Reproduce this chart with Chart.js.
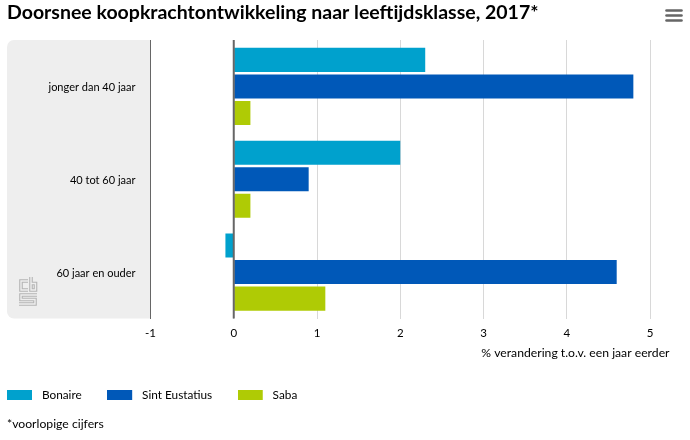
<!DOCTYPE html>
<html><head><meta charset="utf-8">
<style>html,body{margin:0;padding:0;background:#fff}#w{width:690px;height:440px;position:relative}</style>
<script src="https://cdn.jsdelivr.net/npm/chart.js@4"></script></head>
<body><div id="w"><canvas id="c" width="690" height="440"></canvas></div>
<script>
const categories = ['jonger dan 40 jaar', '40 tot 60 jaar', '60 jaar en ouder'];
const bonaire = [2.3, 2.0, -0.1];
const sintEustatius = [4.8, 0.9, 4.6];
const saba = [0.2, 0.2, 1.1];
const seriesNames = ['Bonaire', 'Sint Eustatius', 'Saba'];
const seriesColors = ['#00a1cd', '#0058b8', '#afcb05'];
const titleText = 'Doorsnee koopkrachtontwikkeling naar leeftijdsklasse, 2017*';
const axisTitle = '% verandering t.o.v. een jaar eerder';
const footnote = '*voorlopige cijfers';
const FONT = 'Lato';

function swatch(color){
  const cv = document.createElement('canvas'); cv.width = 29; cv.height = 10;
  const g = cv.getContext('2d'); g.fillStyle = color; g.fillRect(0,0,25,10); return cv;
}
function drawLogo(ctx){
  const path = () => {
    ctx.beginPath();
    ctx.moveTo(28,281);ctx.lineTo(21,281);ctx.lineTo(21,290);ctx.lineTo(28,290);
    ctx.moveTo(31,277);ctx.lineTo(31,290);ctx.lineTo(35.5,290);ctx.lineTo(35.5,283.5);ctx.lineTo(31,283.5);
    ctx.moveTo(37,295);ctx.lineTo(21,295);ctx.lineTo(21,299.5);ctx.lineTo(35,299.5);ctx.lineTo(35,304);ctx.lineTo(19,304);
  };
  ctx.save(); ctx.lineJoin='miter';
  path(); ctx.strokeStyle='#b4b4b4'; ctx.lineWidth=3.6; ctx.stroke();
  path(); ctx.strokeStyle='#eeeeee'; ctx.lineWidth=1.4; ctx.stroke();
  ctx.restore();
}
const decor = {
  id:'decor',
  afterLayout(chart){
    const l = chart.legend, pad = l.options.labels.padding;
    l.left = 7 - pad; l.top = 364; l.bottom = 410;
  },
  beforeDraw(chart){
    const ctx = chart.ctx, a = chart.chartArea;
    ctx.save(); ctx.fillStyle='#eeeeee'; ctx.beginPath();
    ctx.roundRect(7, a.top, a.left-7, a.bottom-a.top, [7,0,0,7]); ctx.fill(); ctx.restore();
    drawLogo(ctx);
    ctx.save(); ctx.strokeStyle='#666'; ctx.lineWidth=2.6; ctx.lineCap='round';
    [10.5,15.5,20.5].forEach(y=>{ctx.beginPath();ctx.moveTo(666.5,y);ctx.lineTo(681.5,y);ctx.stroke();});
    ctx.restore();
  },
  afterDatasetsDraw(chart){
    const ctx = chart.ctx, a = chart.chartArea, x = chart.scales.x.getPixelForValue(0);
    ctx.save(); ctx.strokeStyle='#666'; ctx.lineWidth=2; ctx.beginPath();
    ctx.moveTo(x,a.top); ctx.lineTo(x,a.bottom); ctx.stroke(); ctx.restore();
  },
  afterDraw(chart){
    const ctx = chart.ctx, s = chart.scales.x;
    ctx.save(); ctx.fillStyle='#000'; ctx.font='12.2px '+FONT; ctx.textAlign='right'; ctx.textBaseline='middle';
    ctx.fillText(axisTitle, s.right+19.5, 353); ctx.restore();
  }
};
new Chart(document.getElementById('c'), {
  type:'bar',
  data:{labels:categories, datasets:[
    {label:seriesNames[0], data:bonaire, backgroundColor:seriesColors[0]},
    {label:seriesNames[1], data:sintEustatius, backgroundColor:seriesColors[1]},
    {label:seriesNames[2], data:saba, backgroundColor:seriesColors[2]}
  ]},
  plugins:[decor],
  options:{
    indexAxis:'y', responsive:false, animation:false, devicePixelRatio:1,
    layout:{padding:{left:7,right:40,top:0,bottom:0}},
    datasets:{bar:{categoryPercentage:0.858, barPercentage:0.905, borderWidth:0}},
    plugins:{
      tooltip:{enabled:false},
      title:{display:true, text:titleText, align:'start', color:'#000',
        font:{family:FONT,size:19.5,weight:'bold',lineHeight:1}, padding:{top:2.5,bottom:18}},
      subtitle:{display:true, text:footnote, position:'bottom', align:'start', color:'#000',
        font:{family:FONT,size:12.2,lineHeight:1}, padding:{top:8,bottom:10}},
      legend:{position:'bottom', align:'start',
        labels:{color:'#000', font:{family:FONT,size:11.8}, usePointStyle:true, pointStyleWidth:29, padding:25.5, boxHeight:10,
          generateLabels(chart){
            return chart.data.datasets.map((d,i)=>({text:d.label, pointStyle:swatch(seriesColors[i]), datasetIndex:i, fontColor:'#000', lineWidth:0}));
          }}}
    },
    scales:{
      x:{type:'linear', min:-1, max:5,
        ticks:{stepSize:1, color:'#000', padding:8, maxRotation:0, font:{family:FONT,size:11.5}},
        grid:{drawTicks:false,
          color:c=>c.tick.value===-1?'#666':'#d8d8d8',
          lineWidth:1},
        border:{display:false},
        afterFit(s){s.height=44;}},
      y:{type:'category',
        ticks:{color:'#000', padding:15, labelOffset:1, font:{family:FONT,size:11}},
        grid:{display:false,drawTicks:false}, border:{display:false},
        afterFit(s){s.width=143.5;}}
    }
  }
});
</script></body></html>
